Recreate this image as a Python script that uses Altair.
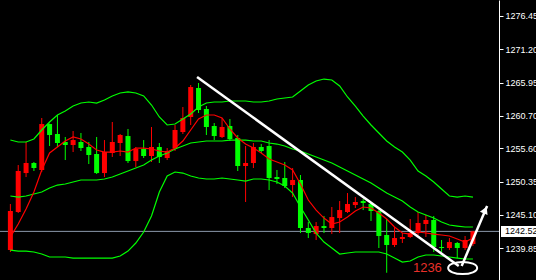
import altair as alt
import pandas as pd
import numpy as np

# ---------------- data ----------------
opens = [1239.58, 1245.57, 1251.71, 1253.29, 1252.19, 1259.43, 1257.86, 1256.60, 1256.13, 1256.60,
         1255.81, 1254.71, 1251.71, 1254.87, 1256.44, 1257.54, 1253.60, 1255.50, 1254.39, 1255.81,
         1254.08, 1255.65, 1258.17, 1260.54, 1265.11, 1261.80, 1259.12, 1257.39, 1259.12, 1257.23,
         1252.82, 1253.29, 1255.81, 1255.97, 1251.08, 1250.93, 1249.82, 1250.61, 1243.05, 1242.10,
         1243.36, 1243.05, 1244.62, 1245.57, 1246.67, 1247.30, 1246.83, 1245.73, 1241.95, 1240.37,
         1241.32, 1241.63, 1242.26, 1243.68, 1244.31, 1240.06, 1239.90, 1240.69, 1239.90, 1240.53]
highs = [1246.83, 1252.97, 1256.60, 1253.45, 1260.38, 1259.50, 1260.85, 1257.39, 1258.33, 1258.02,
         1256.60, 1257.39, 1256.91, 1259.75, 1257.86, 1258.65, 1255.81, 1256.91, 1258.96, 1256.44,
         1255.65, 1259.28, 1262.11, 1265.58, 1265.89, 1262.27, 1259.59, 1260.38, 1260.22, 1257.70,
         1255.97, 1256.44, 1256.28, 1256.91, 1252.19, 1253.45, 1252.50, 1251.40, 1243.99, 1243.99,
         1244.94, 1246.36, 1247.30, 1248.56, 1247.93, 1247.62, 1246.99, 1245.88, 1244.47, 1243.21,
         1242.26, 1244.47, 1245.57, 1245.10, 1244.94, 1241.16, 1241.47, 1240.84, 1241.79, 1242.60]
lows = [1239.27, 1245.41, 1251.08, 1252.03, 1251.87, 1255.97, 1255.81, 1253.76, 1255.02, 1255.18,
        1253.13, 1251.56, 1251.08, 1254.24, 1254.39, 1253.29, 1252.66, 1254.08, 1253.45, 1253.29,
        1253.76, 1255.18, 1257.86, 1259.28, 1261.17, 1257.70, 1256.91, 1257.23, 1256.76, 1252.03,
        1247.15, 1252.50, 1254.87, 1249.04, 1249.98, 1249.35, 1247.93, 1242.26, 1241.47, 1241.16,
        1242.26, 1242.10, 1242.26, 1245.41, 1246.20, 1245.88, 1244.15, 1239.90, 1236.00, 1240.06,
        1240.69, 1241.47, 1241.95, 1241.63, 1239.27, 1239.27, 1239.58, 1238.32, 1239.58, 1240.21]
closes = [1245.73, 1252.03, 1253.29, 1252.50, 1259.43, 1257.70, 1256.44, 1256.13, 1256.91, 1255.65,
          1254.55, 1251.71, 1255.02, 1256.60, 1257.70, 1253.60, 1255.50, 1254.39, 1255.81, 1254.24,
          1255.18, 1258.49, 1260.38, 1265.26, 1261.64, 1258.96, 1257.54, 1258.96, 1257.07, 1252.82,
          1253.29, 1255.81, 1255.18, 1250.93, 1250.77, 1249.67, 1250.61, 1243.05, 1242.26, 1243.36,
          1243.05, 1244.78, 1245.88, 1246.83, 1247.15, 1246.99, 1245.73, 1241.79, 1240.37, 1241.47,
          1241.63, 1242.26, 1243.84, 1244.31, 1240.06, 1239.90, 1240.84, 1239.90, 1241.16, 1242.52]

bb_upper = [1256.91, 1256.60, 1256.60, 1257.07, 1258.49, 1259.75, 1260.85, 1261.48, 1262.27, 1262.74,
            1262.90, 1262.74, 1263.22, 1263.85, 1264.32, 1264.48, 1264.32, 1263.85, 1262.43, 1260.54,
            1259.28, 1259.43, 1260.22, 1261.01, 1262.11, 1262.74, 1262.90, 1262.90, 1263.06, 1263.06,
            1263.06, 1262.90, 1262.90, 1263.06, 1263.37, 1263.53, 1263.69, 1264.63, 1265.58, 1266.21,
            1266.52, 1266.37, 1265.42, 1263.69, 1262.27, 1260.69, 1259.28, 1258.02, 1256.76, 1255.81,
            1255.02, 1253.76, 1252.03, 1251.24, 1250.30, 1249.19, 1248.09, 1247.93, 1248.09, 1247.93]
bb_middle = [1248.09, 1247.93, 1248.09, 1248.41, 1248.72, 1249.35, 1249.82, 1249.98, 1250.30, 1250.61,
             1250.61, 1250.61, 1250.77, 1251.08, 1251.56, 1252.03, 1252.50, 1252.97, 1253.76, 1254.39,
             1254.87, 1255.50, 1255.97, 1256.44, 1256.60, 1256.76, 1256.76, 1256.76, 1256.91, 1256.91,
             1256.91, 1256.76, 1256.76, 1256.44, 1256.28, 1255.97, 1255.50, 1255.18, 1254.71, 1254.24,
             1253.76, 1253.29, 1252.66, 1252.03, 1251.40, 1250.77, 1250.14, 1249.35, 1248.56, 1247.93,
             1247.30, 1246.36, 1245.57, 1245.10, 1244.62, 1243.99, 1243.52, 1243.36, 1243.21, 1243.21]
bb_lower = [1239.58, 1239.42, 1239.42, 1239.27, 1238.95, 1238.48, 1238.48, 1238.48, 1238.32, 1238.32,
            1238.32, 1238.32, 1238.32, 1238.32, 1238.64, 1239.42, 1240.69, 1242.42, 1244.94, 1248.72,
            1251.24, 1251.87, 1251.71, 1251.24, 1250.93, 1250.77, 1250.77, 1250.93, 1250.77, 1250.61,
            1250.45, 1250.77, 1250.77, 1250.61, 1250.30, 1249.67, 1248.56, 1246.36, 1244.31, 1242.26,
            1240.84, 1239.90, 1238.95, 1239.11, 1239.27, 1239.27, 1239.27, 1239.27, 1238.95, 1238.32,
            1237.69, 1237.85, 1238.48, 1238.80, 1238.80, 1238.64, 1238.48, 1238.32, 1238.17, 1238.17]
ma_red = [1241.63, 1243.68, 1246.04, 1248.72, 1252.19, 1254.87, 1255.81, 1256.76, 1257.39, 1257.07,
          1256.28, 1255.34, 1255.02, 1255.02, 1255.18, 1255.02, 1255.65, 1255.65, 1255.50, 1255.18,
          1255.02, 1255.65, 1256.76, 1258.49, 1260.22, 1260.85, 1260.85, 1260.38, 1258.65, 1257.23,
          1256.28, 1255.65, 1254.87, 1253.92, 1253.45, 1252.97, 1252.19, 1249.98, 1247.46, 1245.88,
          1244.62, 1243.68, 1243.99, 1244.78, 1245.73, 1246.36, 1246.20, 1245.41, 1244.47, 1243.21,
          1242.26, 1242.10, 1242.42, 1242.26, 1242.10, 1241.95, 1241.79, 1241.32, 1240.84, 1241.47]

tick_values = [1276.45, 1271.20, 1265.95, 1260.70, 1255.60, 1250.35, 1245.10, 1239.85, 1234.75]
last_price = [1242.52]

# drawn annotations (bar index, price)
trend_i = [23.81, 57.19]
trend_p = [1266.84, 1237.06]
arrow_i = [57.56, 60.81]
arrow_p = [1237.06, 1246.51]
arrowhead_i = [60.56]
arrowhead_p = [1245.88]
ellipse_i = [57.69]
ellipse_p = [1236.75]
note_i = [53.19]
note_p = [1236.75]
note_text = ["1236"]

# ---------------- chart ----------------
n = len(opens)
df = pd.DataFrame({
    "i": list(range(n)), "open": opens, "high": highs, "low": lows, "close": closes,
    "upper": bb_upper, "middle": bb_middle, "lower": bb_lower, "ma": ma_red,
})
df["dir"] = np.where(df["close"] >= df["open"], "up", "down")

xs = alt.Scale(domain=[-0.6875, 61.6875], nice=False, zero=False)
ys = alt.Scale(domain=[1234.86, 1278.97], nice=False, zero=False)
yax = alt.Axis(orient="right", values=tick_values, format=".2f", title=None, grid=False,
               domainColor="#ffffff", tickColor="#ffffff", tickSize=4, labelColor="#ffffff",
               labelFont="Liberation Sans", labelFontSize=9, labelPadding=2,
               labelFlush=False, labelOverlap=False)
X = alt.X("i:Q", scale=xs, axis=None)
color = alt.Color("dir:N", scale=alt.Scale(domain=["up", "down"], range=["#ff0000", "#00ff00"]), legend=None)

base = alt.Chart(df)

bid = alt.Chart(pd.DataFrame({"p": last_price})).mark_rule(color="#8a98aa", strokeWidth=1).encode(
    y=alt.Y("p:Q", scale=ys, axis=yax))

wicks = base.mark_rule(strokeWidth=1).encode(
    x=X, y=alt.Y("low:Q", scale=ys, axis=yax), y2="high:Q", color=color)
bodies = base.mark_bar(width=5, strokeWidth=0).encode(
    x=X, y=alt.Y("open:Q", scale=ys, axis=yax), y2="close:Q", color=color)

band_layers = [
    base.mark_line(color="#00ff00", strokeWidth=1.2).encode(x=X, y=alt.Y(f"{c}:Q", scale=ys, axis=yax))
    for c in ["upper", "middle", "lower"]
]
ma_line = base.mark_line(color="#ff0000", strokeWidth=1.2).encode(x=X, y=alt.Y("ma:Q", scale=ys, axis=yax))

trend = alt.Chart(pd.DataFrame({"i": trend_i, "p": trend_p})).mark_line(
    color="#ffffff", strokeWidth=2.5).encode(x=X, y=alt.Y("p:Q", scale=ys, axis=yax))
arrow = alt.Chart(pd.DataFrame({"i": arrow_i, "p": arrow_p})).mark_line(
    color="#ffffff", strokeWidth=2.5).encode(x=X, y=alt.Y("p:Q", scale=ys, axis=yax))
arrowhead = alt.Chart(pd.DataFrame({"i": arrowhead_i, "p": arrowhead_p})).mark_point(
    shape="triangle-up", filled=True, color="#ffffff", size=70, angle=23, opacity=1).encode(
    x=X, y=alt.Y("p:Q", scale=ys, axis=yax))
ell_path = ("M -1 0 C -1 -0.232 -0.552 -0.42 0 -0.42 C 0.552 -0.42 1 -0.232 1 0 "
            "C 1 0.232 0.552 0.42 0 0.42 C -0.552 0.42 -1 0.232 -1 0 Z")
ellipse = alt.Chart(pd.DataFrame({"i": ellipse_i, "p": ellipse_p})).mark_point(
    shape=ell_path, filled=False, stroke="#ffffff", strokeWidth=2, size=841, opacity=1).encode(
    x=X, y=alt.Y("p:Q", scale=ys, axis=yax))
note = alt.Chart(pd.DataFrame({"i": note_i, "p": note_p, "t": note_text})).mark_text(
    color="#e8302a", font="Liberation Sans", fontSize=13, align="center", baseline="middle").encode(
    x=X, y=alt.Y("p:Q", scale=ys, axis=yax), text="t:N")

price_box = alt.Chart(pd.DataFrame({"p": last_price})).mark_rect(color="#ffffff", height=11).encode(
    x=alt.value(501), x2=alt.value(540), y=alt.Y("p:Q", scale=ys, axis=yax))
price_txt = alt.Chart(pd.DataFrame({"p": last_price})).mark_text(
    color="#000000", font="Liberation Sans", fontSize=9, align="left", baseline="middle").encode(
    x=alt.value(505), y=alt.Y("p:Q", scale=ys, axis=yax), text=alt.Text("p:Q", format=".2f"))

chart = alt.layer(
    bid, wicks, bodies, *band_layers, ma_line, trend, arrow, arrowhead, ellipse, note, price_box, price_txt
).properties(
    width=499, height=280,
    padding={"left": 0, "top": 0, "right": 37, "bottom": 0},
    autosize=alt.AutoSizeParams(type="none"),
    background="#000000",
).configure_view(stroke=None)

chart.save("out.html", embed_options={"renderer": "svg", "actions": False})
